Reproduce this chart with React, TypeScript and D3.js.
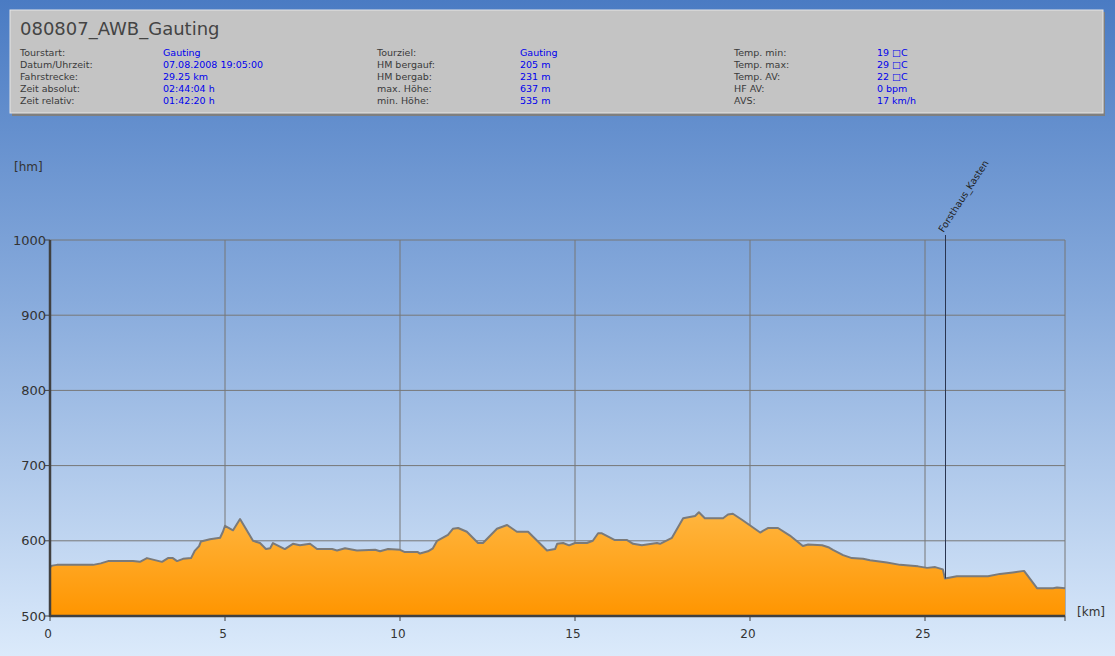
import React from "react";
import * as d3 from "d3";

const title = "080807_AWB_Gauting";
const infoLabels1 = ["Tourstart:", "Datum/Uhrzeit:", "Fahrstrecke:", "Zeit absolut:", "Zeit relativ:"];
const infoValues1 = ["Gauting", "07.08.2008 19:05:00", "29.25 km", "02:44:04 h", "01:42:20 h"];
const infoLabels2 = ["Tourziel:", "HM bergauf:", "HM bergab:", "max. Höhe:", "min. Höhe:"];
const infoValues2 = ["Gauting", "205 m", "231 m", "637 m", "535 m"];
const infoLabels3 = ["Temp. min:", "Temp. max:", "Temp. AV:", "HF AV:", "AVS:"];
const infoValues3 = ["19 □C", "29 □C", "22 □C", "0 bpm", "17 km/h"];

const distKm = [
  0.0, 0.06, 0.2, 0.57, 1.23, 1.45, 1.66, 2.37, 2.57, 2.77, 3.2, 3.37, 3.51, 3.63, 3.8, 4.03, 4.14, 4.26, 4.31,
  4.57, 4.86, 4.94, 5.0, 5.23, 5.43, 5.8, 6.0, 6.17, 6.29, 6.37, 6.71, 6.94, 7.14, 7.43, 7.63, 8.06, 8.2, 8.43,
  8.77, 9.29, 9.43, 9.66, 10.0, 10.14, 10.51, 10.57, 10.8, 10.94, 11.06, 11.37, 11.51, 11.66, 11.91, 12.23,
  12.37, 12.77, 13.06, 13.34, 13.66, 14.2, 14.43, 14.49, 14.66, 14.83, 15.0, 15.34, 15.51, 15.66, 15.77, 16.14,
  16.49, 16.66, 16.91, 17.34, 17.43, 17.77, 18.09, 18.43, 18.54, 18.71, 19.23, 19.37, 19.51, 19.77, 20.29,
  20.51, 20.8, 21.14, 21.51, 21.66, 22.06, 22.26, 22.37, 22.66, 22.91, 23.23, 23.43, 23.91, 24.29, 24.8, 25.06,
  25.29, 25.51, 25.57, 25.91, 26.8, 27.14, 27.51, 27.83, 28.2, 28.66, 28.77, 29.0,
];
const elevM = [
  565, 567, 568, 568, 568, 570, 573, 573, 572, 577, 572, 577, 577, 573, 576, 577, 587, 593, 599,
  602, 604, 612, 620, 614, 629, 600, 597, 589, 590, 597, 589, 596, 594, 596, 589, 589, 587, 590,
  587, 588, 586, 589, 588, 585, 585, 583, 586, 590, 600, 608, 616, 617, 612, 597,
  597, 616, 621, 612, 612, 587, 589, 596, 597, 594, 597, 597, 600, 610, 610, 601,
  601, 596, 594, 597, 596, 604, 630, 633, 638, 630, 630, 635, 636, 628, 611,
  617, 617, 607, 593, 595, 594, 591, 588, 581, 577, 576, 574, 571, 568, 566, 564,
  565, 562, 550, 553, 553, 556, 558, 560, 537, 537, 538, 537,
];

const yTicks = [500, 600, 700, 800, 900, 1000];
const xTicks = [0, 5, 10, 15, 20, 25];
const waypointNames = ["Forsthaus_Kasten"];
const waypointKm = [25.57];

const W = 1115, H = 656;
const FONT = "'DejaVu Sans', Verdana, sans-serif";

export default function App() {
  const x = d3.scaleLinear().domain([0, 29]).range([50, 1065]);
  const y = d3.scaleLinear().domain([500, 1000]).range([616, 240]);
  const pts = distKm.map((d, i) => [d, elevM[i]] as [number, number]);
  const area = d3.area<[number, number]>().x(d => x(d[0])).y0(y(500)).y1(d => y(d[1]));
  const line = d3.line<[number, number]>().x(d => x(d[0])).y(d => y(d[1]));
  const interp = (km: number) => {
    const i = d3.bisectLeft(distKm, km);
    return elevM[Math.min(i, elevM.length - 1)];
  };
  const rowsY = [53, 65, 77, 89, 101];
  const cols = [
    { lx: 20, vx: 163, labels: infoLabels1, values: infoValues1 },
    { lx: 377, vx: 520, labels: infoLabels2, values: infoValues2 },
    { lx: 734, vx: 877, labels: infoLabels3, values: infoValues3 },
  ];
  return (
    <svg width={W} height={H} style={{ position: "absolute", left: 0, top: 0, fontFamily: FONT }}>
      <defs>
        <linearGradient id="bg" x1="0" y1="0" x2="0" y2="1">
          <stop offset="0%" stopColor="#4a7bc3" />
          <stop offset="46%" stopColor="#88abdc" />
          <stop offset="100%" stopColor="#dbeafb" />
        </linearGradient>
        <linearGradient id="fill" x1="0" y1={y(640)} x2="0" y2={y(500)} gradientUnits="userSpaceOnUse">
          <stop offset="0%" stopColor="#ffb640" />
          <stop offset="100%" stopColor="#ff9500" />
        </linearGradient>
      </defs>
      <rect x={0} y={0} width={W} height={H} fill="url(#bg)" />
      {/* header box */}
      <rect x={12} y={12} width={1093} height={104} fill="#7f7f7f" />
      <rect x={10} y={10} width={1093} height={103} fill="#c4c4c4" stroke="#e6e6e6" strokeWidth={1} />
      <text x={20} y={35} fontSize={18} fill="#444">{title}</text>
      {cols.map((c, ci) => (
        <g key={ci} fontSize={9.5}>
          {c.labels.map((l, i) => (
            <text key={"l" + i} x={c.lx} y={rowsY[i]} dy="0.35em" fill="#3a3a3a">{l}</text>
          ))}
          {c.values.map((v, i) => (
            <text key={"v" + i} x={c.vx} y={rowsY[i]} dy="0.35em" fill="#0000ee">{v}</text>
          ))}
        </g>
      ))}
      {/* grid */}
      {yTicks.filter(t => t > 500).map(t => (
        <line key={"gy" + t} x1={x(0)} x2={x(29)} y1={y(t)} y2={y(t)} stroke="#777" strokeWidth={1} />
      ))}
      {xTicks.filter(t => t > 0).map(t => (
        <line key={"gx" + t} x1={x(t)} x2={x(t)} y1={y(1000)} y2={y(500)} stroke="#777" strokeWidth={1} />
      ))}
      <line x1={x(29)} x2={x(29)} y1={y(1000)} y2={y(500)} stroke="#777" strokeWidth={1} />
      {/* profile */}
      <path d={area(pts) || ""} fill="url(#fill)" />
      <path d={line(pts) || ""} fill="none" stroke="#7a7a7a" strokeWidth={2} strokeLinejoin="round" />
      {/* waypoint */}
      {waypointKm.map((k, i) => {
        const wx = Math.round(x(k)) + 0.5;
        return (
          <g key={"wp" + i}>
            <line x1={wx} x2={wx} y1={235} y2={y(interp(k))} stroke="#2a3550" strokeWidth={1} />
            <text transform={`translate(${wx - 2},${233}) rotate(-57)`} fontSize={9.5} fill="#222">{waypointNames[i]}</text>
          </g>
        );
      })}
      {/* axes */}
      <line x1={x(0)} x2={x(0)} y1={y(1000)} y2={y(500) + 1} stroke="#404040" strokeWidth={2.5} />
      <line x1={x(0)} x2={x(29)} y1={y(500)} y2={y(500)} stroke="#404040" strokeWidth={2.5} />
      {yTicks.map(t => (
        <g key={"ty" + t}>
          <line x1={x(0) - 5} x2={x(0)} y1={y(t)} y2={y(t)} stroke="#404040" strokeWidth={1} />
          <text x={46} y={y(t)} dy="0.35em" textAnchor="end" fontSize={13} fill="#333">{t}</text>
        </g>
      ))}
      {xTicks.map(t => (
        <g key={"tx" + t}>
          <line x1={x(t)} x2={x(t)} y1={y(500)} y2={y(500) + 5} stroke="#404040" strokeWidth={1} />
          <text x={x(t) - 2} y={634} dy="0.35em" textAnchor="middle" fontSize={12} fill="#333">{t}</text>
        </g>
      ))}
      <line x1={x(29)} x2={x(29)} y1={y(500)} y2={y(500) + 5} stroke="#404040" strokeWidth={1} />
      <text x={14} y={167} dy="0.35em" fontSize={12} fill="#333">[hm]</text>
      <text x={1077} y={612} dy="0.35em" fontSize={12} fill="#333">[km]</text>
    </svg>
  );
}
